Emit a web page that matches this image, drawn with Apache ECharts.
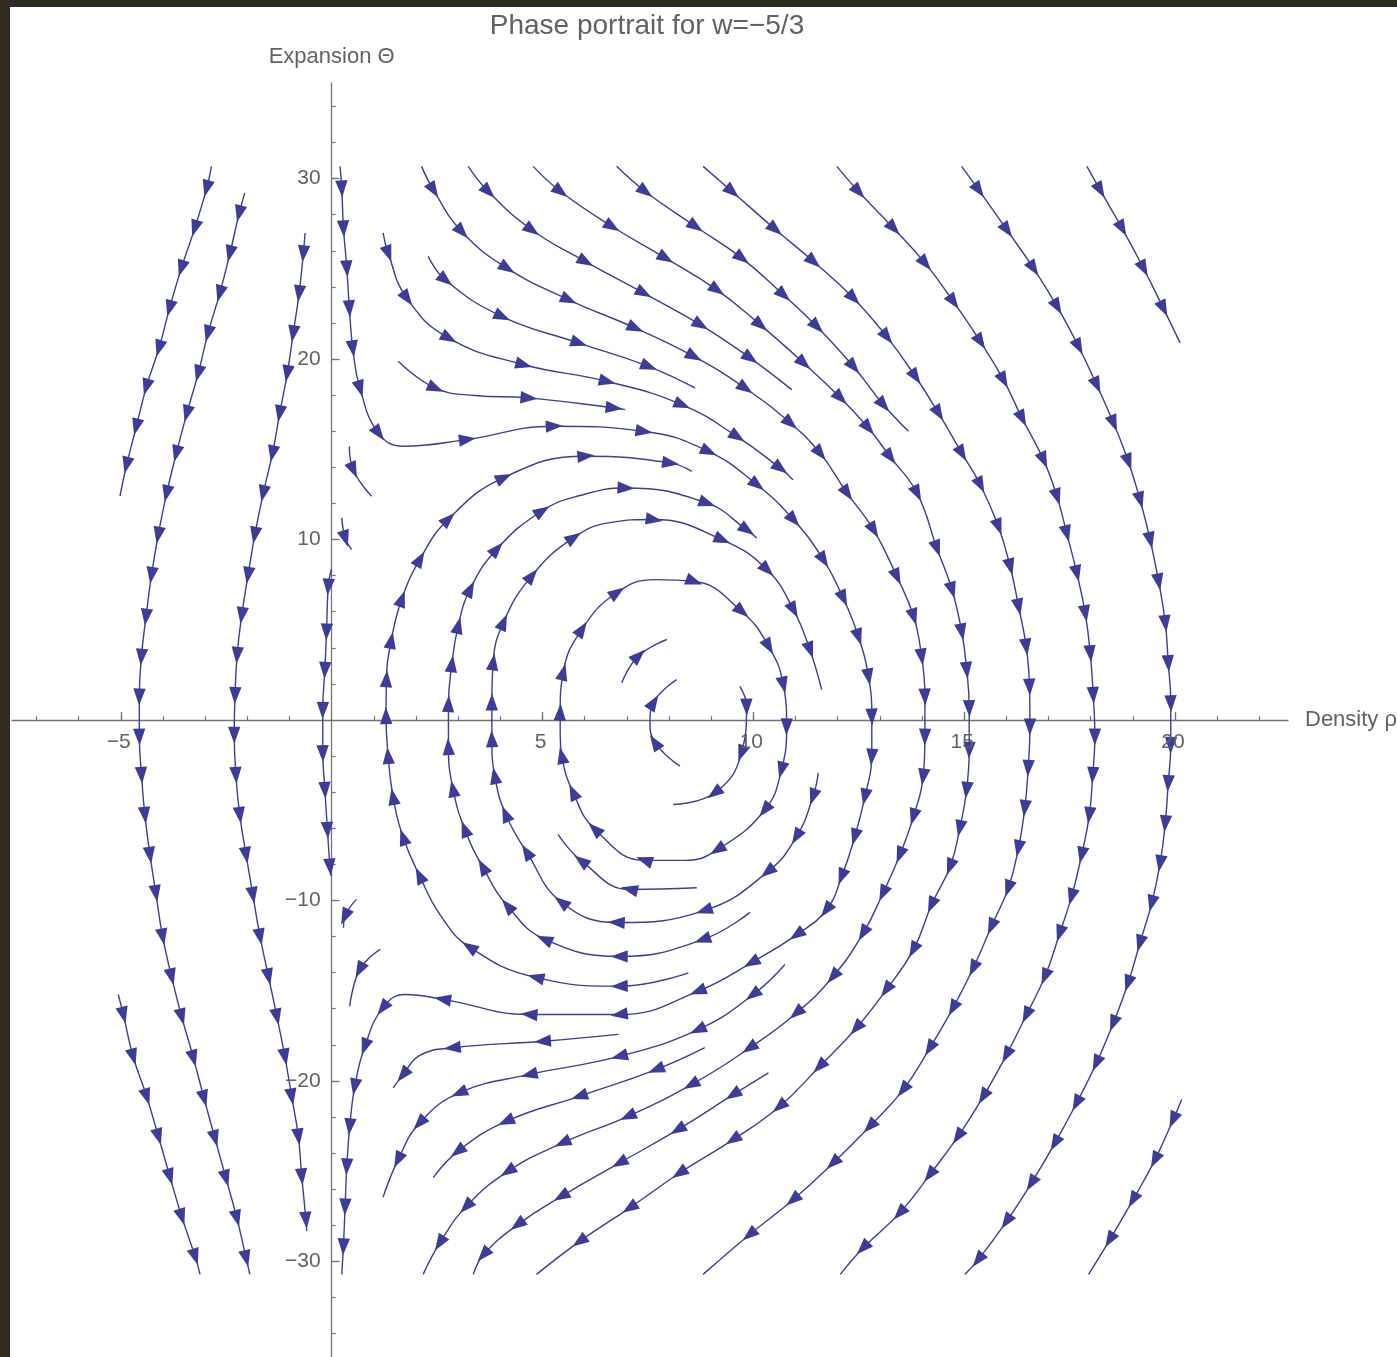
<!DOCTYPE html>
<html>
<head>
<meta charset="utf-8">
<script src="https://cdn.jsdelivr.net/npm/echarts@6/dist/echarts.min.js"></script>
<style>
  html, body { margin: 0; padding: 0; background: #2e2b21; }
  #frame { position: relative; width: 1397px; height: 1357px; background: #2e2b21; overflow: hidden; }
  #chart { position: absolute; left: 10px; top: 7px; width: 1387px; height: 1350px; background: #ffffff; }
</style>
</head>
<body>
<div id="frame"><div id="chart"></div></div>
<script>
// Streamlines of the (rho, Theta) phase flow, listed in flow order.
// Each point is [rho, Theta]; a third value of 0 marks a bend with no arrowhead.

// rho < 0 side
const negShortUpper = [[-2.85,30.68],[-2.96,29.50],[-3.24,27.29],[-3.56,25.07],[-3.84,22.85],[-4.09,20.64],[-4.39,18.49],[-4.63,16.28],[-4.86,14.16],[-5.02,12.40]];
const negShortLower = [[-5.06,-15.21],[-4.94,-16.32],[-4.71,-18.63],[-4.39,-20.84],[-4.11,-23.06],[-3.84,-25.27],[-3.56,-27.49],[-3.24,-29.71],[-3.12,-30.72]];
const negOuter = [[-2.06,29.21],[-2.19,28.10],[-2.41,25.88],[-2.65,23.67],[-2.93,21.45],[-3.16,19.24],[-3.43,17.02],[-3.68,14.80],[-3.91,12.59],[-4.11,10.28],[-4.27,8.06],[-4.40,5.75],[-4.51,3.53],[-4.56,1.32],[-4.56,-0.90],[-4.51,-3.02],[-4.43,-5.24],[-4.31,-7.45],[-4.17,-9.57],[-4.01,-11.98],[-3.80,-14.19],[-3.56,-16.41],[-3.28,-18.71],[-3.03,-20.93],[-2.77,-23.15],[-2.51,-25.36],[-2.25,-27.58],[-2.03,-29.80],[-1.94,-30.72]];
const negInner = [[-0.63,26.99],[-0.67,25.88],[-0.77,23.67],[-0.91,21.45],[-1.05,19.24],[-1.23,17.02],[-1.40,14.80],[-1.62,12.59],[-1.82,10.28],[-1.98,8.06],[-2.13,5.84],[-2.24,3.63],[-2.29,1.41],[-2.31,-0.80],[-2.27,-3.02],[-2.18,-5.24],[-2.03,-7.45],[-1.87,-9.67],[-1.70,-11.98],[-1.50,-14.19],[-1.30,-16.41],[-1.11,-18.63],[-0.95,-20.84],[-0.79,-23.06],[-0.71,-25.27],[-0.61,-27.67],[-0.59,-28.32]];
const negNearAxis = [[-0.01,8.34],[-0.08,7.41],[-0.12,4.92],[-0.16,2.80],[-0.21,0.58],[-0.21,-1.82],[-0.16,-3.85],[-0.10,-6.07],[-0.04,-8.10],[-0.01,-8.65]];

// along the Theta axis
const axisOrbit = [[0.20,30.68],[0.24,29.48],[0.28,27.27],[0.36,25.05],[0.42,22.84],[0.50,20.62],[0.67,18.40],[1.11,15.91],[1.70,15.17,0],[3.20,15.54],[5.26,16.28],[7.39,16.00],[8.93,14.89],[10.08,13.05],[10.95,11.11],[11.66,8.89],[12.13,6.77],[12.49,4.64],[12.73,2.43],[12.81,0.21],[12.81,-2.01],[12.65,-4.22],[12.41,-6.44],[12.10,-8.65],[11.74,-10.50],[11.04,-11.88],[9.97,-13.43],[8.70,-15.02],[6.84,-16.32],[4.70,-16.32],[2.65,-15.48],[1.74,-15.21,0],[1.22,-15.94],[0.79,-18.07],[0.55,-20.29],[0.43,-22.50],[0.36,-24.72],[0.32,-26.94],[0.28,-29.15],[0.24,-30.72]];
const stubUpper1 = [[0.42,15.17],[0.51,13.88],[0.95,12.40]];
const stubUpper2 = [[0.24,11.20],[0.32,10.09],[0.47,9.45]];
const stubLower1 = [[1.15,-12.71],[0.67,-13.82],[0.43,-15.86]];
const stubLower2 = [[0.59,-9.94],[0.32,-10.87],[0.28,-11.51]];

// open arcs entering from the top / leaving at the bottom
const bendUpper = [[1.22,26.99],[1.34,25.88],[1.78,23.39],[2.77,21.17],[4.54,19.70],[6.52,18.77],[8.30,17.48],[9.61,15.72],[10.63,13.97],[10.94,13.32]];
const bendLower = [[10.75,-13.55],[10.00,-15.21],[8.70,-17.15],[6.84,-18.63],[4.70,-19.64],[3.04,-20.65],[2.09,-22.32],[1.58,-24.35],[1.22,-26.45]];
const arcUpperA = [[2.29,25.70],[2.69,24.40],[4.03,22.37],[5.85,20.90],[7.51,19.60],[8.62,18.40]];
const arcLowerA = [[8.85,-18.16],[7.71,-19.36],[5.89,-20.84],[4.15,-22.23],[3.00,-23.89],[2.41,-25.36]];
const arcUpperB = [[3.24,30.68],[3.71,29.30],[4.74,27.17],[6.01,25.42],[7.39,23.67],[8.74,21.91],[9.92,20.07],[10.91,18.31]];
const arcLowerB = [[10.36,-19.55],[9.53,-20.75],[8.22,-22.69],[6.84,-24.53],[5.46,-26.38],[4.42,-27.95],[3.61,-29.61],[3.36,-30.72]];
const arcUpperC = [[1.58,19.88],[2.45,18.40],[3.40,17.98,0],[4.66,17.85],[6.68,17.30],[6.96,17.20]];
const arcLowerC = [[6.80,-17.42],[5.02,-17.80],[2.88,-18.16],[2.09,-18.59,0],[1.70,-19.64],[1.46,-20.38]];
const arcUpperD = [[6.76,30.68],[7.43,29.30],[8.62,27.36],[9.72,25.61],[10.71,23.57],[11.50,21.82],[12.37,19.60],[13.08,17.48],[13.68,16.00]];
const edgeUpper = [[17.91,30.68],[18.22,29.39],[18.74,27.27],[19.25,25.05],[19.72,22.84],[20.12,20.90]];
const edgeLower = [[20.16,-21.03],[19.96,-22.13],[19.53,-24.35],[19.01,-26.57],[18.46,-28.78],[17.95,-30.72]];

// long orbits sweeping round the right side
const orbitA = [[2.13,30.68],[2.41,29.39],[3.08,27.08],[4.15,25.05],[5.61,23.30],[7.19,21.73],[8.58,20.16],[9.80,18.40],[10.87,16.47],[11.58,14.80],[12.22,12.59],[12.85,10.55],[13.40,7.97],[13.80,5.75],[13.99,3.53],[14.07,1.32],[14.07,-0.90],[14.03,-3.11],[13.80,-5.33],[13.48,-7.45],[13.08,-9.57],[12.61,-11.79],[11.90,-14.19],[11.03,-16.22],[9.92,-18.16],[8.54,-20.19],[7.04,-21.95],[5.49,-23.42],[4.19,-25.00],[3.20,-26.94],[2.57,-28.96],[2.17,-30.72]];
const orbitB = [[4.78,30.68],[5.42,29.30],[6.64,27.36],[7.91,25.61],[9.13,23.85],[10.16,21.91],[11.19,19.79],[12.06,17.87],[12.72,16.21],[13.24,14.60],[13.88,12.59],[14.35,9.54],[14.71,7.23],[14.94,4.92],[15.06,2.80],[15.12,0.68],[15.12,-1.63],[15.06,-3.85],[14.90,-5.97],[14.67,-8.10],[14.23,-10.22],[13.80,-12.71],[13.16,-14.93],[12.45,-17.05],[11.58,-19.18],[10.63,-21.40],[9.53,-23.24],[8.26,-25.09],[7.08,-27.02],[5.89,-28.88],[4.86,-30.72]];
const orbitC = [[8.81,30.68],[9.49,29.30],[10.51,27.21],[11.42,25.42],[12.37,23.39],[13.16,21.26],[13.84,19.05],[14.39,17.02],[14.94,14.80],[15.38,13.05],[15.81,10.74],[16.09,8.52],[16.29,6.30],[16.47,4.09],[16.55,1.87],[16.56,-0.34],[16.52,-2.63],[16.44,-4.86],[16.29,-7.08],[16.05,-9.30],[15.65,-11.42],[15.22,-13.73],[14.74,-15.94],[14.19,-18.16],[13.56,-20.47],[12.77,-22.50],[11.90,-24.53],[10.95,-26.57],[9.92,-28.50],[8.81,-30.72]];
const orbitD = [[11.98,30.68],[12.49,29.30],[13.32,27.27],[14.07,25.33],[14.74,23.20],[15.38,20.99],[15.93,18.86],[16.37,16.74],[16.88,14.43],[17.20,12.40],[17.43,10.37],[17.67,8.16],[17.87,5.94],[17.99,3.72],[18.06,1.41],[18.10,-0.90],[18.05,-3.02],[17.97,-5.24],[17.79,-7.45],[17.55,-9.76],[17.27,-11.79],[16.92,-14.19],[16.48,-16.32],[16.01,-18.53],[15.46,-20.84],[14.86,-23.06],[14.19,-25.18],[13.48,-27.30],[12.61,-29.24],[12.06,-30.72]];
const orbitE = [[14.94,30.68],[15.34,29.39],[16.01,27.17],[16.64,25.05],[17.20,22.93],[17.71,20.71],[18.14,18.59],[18.54,16.47],[18.89,14.34],[19.17,12.22],[19.41,10.00],[19.61,7.69],[19.77,5.39],[19.84,3.17],[19.90,0.95],[19.90,-1.36],[19.84,-3.48],[19.77,-5.70],[19.65,-7.91],[19.45,-10.13],[19.17,-12.34],[18.89,-14.56],[18.54,-16.78],[18.14,-18.99],[17.67,-21.21],[17.16,-23.42],[16.60,-25.64],[16.01,-27.77],[15.34,-29.89],[15.02,-30.72]];

// rings round the centre near rho = 8
const ringA = [[8.46,-14.01],[6.84,-14.75],[4.86,-14.28],[3.28,-12.60],[2.57,-10.78,0],[2.09,-8.65],[1.70,-6.53],[1.46,-4.29],[1.34,-2.02],[1.29,0.19],[1.30,2.24],[1.41,4.37],[1.66,6.68],[2.09,8.89],[2.76,11.11],[4.07,13.42],[6.01,14.62],[8.02,14.25],[8.54,13.78]];
const ringB = [[9.92,-10.66],[8.81,-12.16],[6.84,-13.10],[5.06,-12.16],[4.18,-10.33],[3.59,-8.17],[3.16,-6.07],[2.88,-3.85],[2.77,-1.52],[2.77,0.86],[2.85,3.07],[3.00,5.20],[3.28,7.23],[3.91,9.45],[4.98,11.57],[5.89,12.44,0],[6.96,12.86],[8.89,12.03],[9.84,10.55],[10.08,10.09]];
const ringC = [[11.54,-2.93],[11.42,-4.22],[11.03,-6.44],[10.35,-8.39],[8.85,-10.55],[6.77,-11.22],[5.46,-10.11],[4.63,-7.34],[4.13,-5.24],[3.87,-3.13],[3.80,-1.08],[3.80,0.95],[3.83,3.17],[4.07,5.39],[4.74,7.97],[5.73,10.09],[6.60,10.94,0],[7.63,11.11],[9.25,10.00],[10.32,8.34],[10.95,6.12],[11.34,3.91],[11.62,1.69]];
const ringCore = [[5.42,-0.80],[5.42,0.40],[5.49,2.61],[5.93,5.01],[6.76,7.05],[7.67,7.78,0],[8.58,7.69],[9.72,6.03],[10.36,4.09],[10.71,1.97],[10.79,-0.34],[10.67,-2.74],[10.28,-4.96],[9.16,-7.17],[8.38,-7.78,0],[7.43,-7.78],[6.25,-6.07],[5.73,-4.03],[5.46,-2.01],[5.42,-0.80]];
const arcBottom = [[8.66,-9.30],[7.08,-9.39],[5.93,-7.82],[5.37,-6.34]];
const innerA = [[6.88,2.06],[7.27,3.53],[7.95,4.46]];
const innerB = [[8.26,-2.56],[7.67,-1.26],[7.55,-0.08,0],[7.63,0.95],[8.18,2.24]];
const innerC = [[9.68,1.87],[9.84,0.76],[9.72,-1.82],[9.09,-4.03],[8.10,-4.68]];

// axes
const rhoRange = [-7.58, 22.68];
const thetaRange = [-35.3, 35.3];
const rhoMajorTicks = [-5, 5, 10, 15, 20];
const rhoMinorTicks = [-7,-6,-5,-4,-3,-2,-1,1,2,3,4,5,6,7,8,9,10,11,12,13,14,15,16,17,18,19,20,21,22];
const thetaMajorTicks = [-30, -20, -10, 10, 20, 30];
const thetaMinorTicks = [-34,-32,-30,-28,-26,-24,-22,-20,-18,-16,-14,-12,-10,-8,-6,-4,-2,2,4,6,8,10,12,14,16,18,20,22,24,26,28,30,32,34];

const streamlines = [
  negShortUpper, negShortLower, negOuter, negInner, negNearAxis,
  axisOrbit, stubUpper1, stubUpper2, stubLower1, stubLower2,
  bendUpper, bendLower, arcUpperA, arcLowerA, arcUpperB, arcLowerB,
  arcUpperC, arcLowerC, arcUpperD, edgeUpper, edgeLower,
  orbitA, orbitB, orbitC, orbitD, orbitE,
  ringA, ringB, ringC, ringCore, arcBottom, innerA, innerB, innerC
];

const FLOW = 'rgb(61,61,153)';
const AXIS = '#747474';
const TEXT = '#626262';
const FONT = '"Liberation Sans", Arial, sans-serif';

// arrowheads: every interior vertex that is not a plain bend
const heads = [];
streamlines.forEach(function (pts) {
  for (let i = 1; i < pts.length - 1; i++) {
    if (pts[i].length > 2 && pts[i][2] === 0) continue;
    const a = pts[i - 1], b = pts[i + 1];
    heads.push([pts[i][0], pts[i][1], a[0], a[1], b[0], b[1]]);
  }
});

function renderHead(params, api) {
  const p = api.coord([api.value(0), api.value(1)]);
  const a = api.coord([api.value(2), api.value(3)]);
  const b = api.coord([api.value(4), api.value(5)]);
  let dx = b[0] - a[0], dy = b[1] - a[1];
  const len = Math.sqrt(dx * dx + dy * dy) || 1;
  dx /= len; dy /= len;
  const L = 17, W = 6.2;
  const tip = [p[0] + dx * L * 0.55, p[1] + dy * L * 0.55];
  const bx = p[0] - dx * L * 0.45, by = p[1] - dy * L * 0.45;
  return {
    type: 'polygon',
    shape: { points: [tip, [bx - dy * W, by + dx * W], [bx + dy * W, by - dx * W]] },
    style: { fill: FLOW }
  };
}

const minus = function (v) { return String(v).replace('-', '\u2212'); };

// tick labels placed through the axis scales
function renderRhoLabel(params, api) {
  const v = api.value(0);
  const p = api.coord([v, 0]);
  return {
    type: 'text', x: p[0] - 2, y: p[1] + 22,
    style: { text: minus(v), fill: TEXT, font: '21px ' + FONT, textAlign: 'center', textVerticalAlign: 'middle' }
  };
}
function renderThetaLabel(params, api) {
  const v = api.value(1);
  const p = api.coord([0, v]);
  return {
    type: 'text', x: p[0] - 11, y: p[1],
    style: { text: minus(v), fill: TEXT, font: '21px ' + FONT, textAlign: 'right', textVerticalAlign: 'middle' }
  };
}

const series = streamlines.map(function (pts) {
  return {
    type: 'line',
    data: pts.map(function (p) { return [p[0], p[1]]; }),
    smooth: 0.45,
    showSymbol: false,
    silent: true,
    lineStyle: { color: FLOW, width: 1.4 },
    z: 3
  };
});
series.push({
  type: 'custom', renderItem: renderHead, data: heads,
  encode: { x: 0, y: 1 }, silent: true, z: 4
});
series.push({
  type: 'custom', renderItem: renderRhoLabel,
  data: rhoMajorTicks.map(function (v) { return [v, 0]; }),
  encode: { x: 0, y: 1 }, silent: true, clip: false, z: 5
});
series.push({
  type: 'custom', renderItem: renderThetaLabel,
  data: thetaMajorTicks.map(function (v) { return [0, v]; }),
  encode: { x: 0, y: 1 }, silent: true, clip: false, z: 5
});

const chart = echarts.init(document.getElementById('chart'), null, { renderer: 'canvas' });
chart.setOption({
  animation: false,
  backgroundColor: '#ffffff',
  grid: { left: 2, right: 109, top: 76, bottom: 0, containLabel: false, outerBoundsMode: 'none' },
  graphic: [{
    type: 'text',
    x: 637,
    y: 19.5,
    style: {
      text: 'Phase portrait for w=\u22125/3',
      fill: TEXT,
      font: '28px ' + FONT,
      textAlign: 'center',
      textVerticalAlign: 'middle'
    }
  }],
  xAxis: [{
    type: 'value',
    min: rhoRange[0],
    max: rhoRange[1],
    position: 'bottom',
    name: 'Density \u03c1',
    nameLocation: 'end',
    nameGap: 17,
    nameMoveOverlap: false,
    nameTextStyle: { color: TEXT, fontSize: 22, fontFamily: FONT, align: 'left', verticalAlign: 'middle' },
    axisLine: { onZero: true, onZeroAxisIndex: 0, lineStyle: { color: AXIS, width: 1.3 } },
    axisTick: { show: true, inside: true, length: 8, customValues: rhoMajorTicks, lineStyle: { color: AXIS, width: 1.3 } },
    axisLabel: { show: false },
    splitLine: { show: false }
  }, {
    type: 'value',
    min: rhoRange[0],
    max: rhoRange[1],
    position: 'bottom',
    axisLine: { onZero: true, onZeroAxisIndex: 0, lineStyle: { color: AXIS, opacity: 0 } },
    axisTick: { show: true, inside: true, length: 4, customValues: rhoMinorTicks, lineStyle: { color: AXIS, width: 1.2 } },
    axisLabel: { show: false },
    splitLine: { show: false }
  }],
  yAxis: [{
    type: 'value',
    min: thetaRange[0],
    max: thetaRange[1],
    position: 'left',
    name: 'Expansion \u0398',
    nameLocation: 'end',
    nameGap: 15,
    nameMoveOverlap: false,
    nameTextStyle: { color: TEXT, fontSize: 22, fontFamily: FONT },
    axisLine: { onZero: true, onZeroAxisIndex: 0, lineStyle: { color: AXIS, width: 1.3 } },
    axisTick: { show: true, inside: true, length: 8, customValues: thetaMajorTicks, lineStyle: { color: AXIS, width: 1.3 } },
    axisLabel: { show: false },
    splitLine: { show: false }
  }, {
    type: 'value',
    min: thetaRange[0],
    max: thetaRange[1],
    position: 'left',
    axisLine: { onZero: true, onZeroAxisIndex: 0, lineStyle: { color: AXIS, opacity: 0 } },
    axisTick: { show: true, inside: true, length: 4, customValues: thetaMinorTicks, lineStyle: { color: AXIS, width: 1.2 } },
    axisLabel: { show: false },
    splitLine: { show: false }
  }],
  series: series
});
</script>
</body>
</html>
